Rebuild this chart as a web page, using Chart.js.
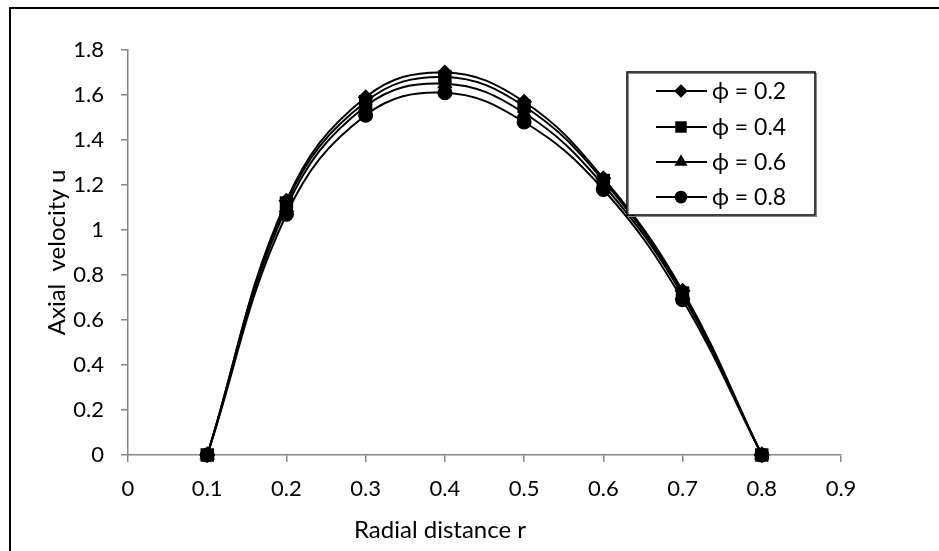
<!DOCTYPE html>
<html><head><meta charset="utf-8">
<script src="https://cdn.jsdelivr.net/npm/chart.js@4.4.1/dist/chart.umd.min.js"></script>
<style>
html,body{margin:0;padding:0;background:#fff;overflow:hidden;}
#wrap{position:relative;width:939px;height:551px;overflow:hidden;}
#frame{position:absolute;left:9px;top:7px;width:1000px;height:700px;border:2px solid #000;box-sizing:border-box;}
canvas{position:absolute;left:0;top:0;}
</style></head><body>
<div id="wrap"><div id="frame"></div><canvas id="c" width="939" height="551"></canvas></div>
<script>
const radialDistance = [0.1, 0.2, 0.3, 0.4, 0.5, 0.6, 0.7, 0.8];
const phi02 = [0, 1.13, 1.59, 1.70, 1.57, 1.23, 0.73, 0];
const phi04 = [0, 1.12, 1.57, 1.68, 1.55, 1.22, 0.72, 0];
const phi06 = [0, 1.10, 1.55, 1.65, 1.52, 1.20, 0.71, 0];
const phi08 = [0, 1.07, 1.51, 1.61, 1.48, 1.18, 0.69, 0];
const seriesLabels = ['\u03D5 = 0.2', '\u03D5 = 0.4', '\u03D5 = 0.6', '\u03D5 = 0.8'];
const xTicks = [0, 0.1, 0.2, 0.3, 0.4, 0.5, 0.6, 0.7, 0.8, 0.9];
const xTickLabels = ['0', '0.1', '0.2', '0.3', '0.4', '0.5', '0.6', '0.7', '0.8', '0.9'];
const yTicks = [0, 0.2, 0.4, 0.6, 0.8, 1, 1.2, 1.4, 1.6, 1.8];
const yTickLabels = ['0', '0.2', '0.4', '0.6', '0.8', '1', '1.2', '1.4', '1.6', '1.8'];
const xTitle = 'Radial distance r';
const yTitle = 'Axial  velocity u';

const FONT = "Lato, 'Noto Sans', 'DejaVu Sans', sans-serif";
const markerStyles = [
  {pointStyle: 'rectRot', radius: 8},
  {pointStyle: 'rect', radius: 9.5},
  {pointStyle: 'triangle', radius: 9},
  {pointStyle: 'circle', radius: 7.5}
];
const seriesValues = [phi02, phi04, phi06, phi08];

const datasets = seriesValues.map((vals, i) => ({
  label: seriesLabels[i],
  data: radialDistance.map((r, j) => ({x: r, y: vals[j]})),
  showLine: true,
  borderColor: '#000',
  backgroundColor: '#000',
  borderWidth: 2,
  tension: 0.4,
  pointStyle: markerStyles[i].pointStyle,
  pointRadius: markerStyles[i].radius,
  pointBorderWidth: 0,
  pointBackgroundColor: '#000',
  clip: false,
  order: seriesValues.length - 1 - i
}));

const overlay = {
  id: 'overlay',
  afterDraw(chart) {
    const ctx = chart.ctx;
    const area = chart.chartArea;
    ctx.save();
    ctx.fillStyle = '#000';
    // axis titles
    ctx.font = '24px ' + FONT;
    ctx.textAlign = 'center';
    ctx.textBaseline = 'middle';
    ctx.fillText(xTitle, 440, 530);
    ctx.save();
    ctx.translate(57, (area.top + area.bottom) / 2);
    ctx.rotate(-Math.PI / 2);
    ctx.fillText(yTitle, 0, 0);
    ctx.restore();
    // legend
    const bx = 627, by = 72, bw = 188, bh = 143;
    ctx.fillStyle = '#fff';
    ctx.fillRect(bx, by, bw, bh);
    ctx.strokeStyle = '#888';
    ctx.lineWidth = 1;
    ctx.strokeRect(bx + 1.5, by + 1.5, bw, bh);
    ctx.strokeStyle = '#000';
    ctx.lineWidth = 1.5;
    ctx.strokeRect(bx, by, bw, bh);
    const rows = [91, 127, 162, 197];
    chart.data.datasets.forEach((ds, i) => {
      const y = rows[i];
      ctx.strokeStyle = '#000';
      ctx.lineWidth = 2;
      ctx.beginPath();
      ctx.moveTo(656, y);
      ctx.lineTo(707, y);
      ctx.stroke();
      ctx.fillStyle = '#000';
      ctx.strokeStyle = '#000';
      ctx.lineWidth = 0.01;
      Chart.helpers.drawPoint(ctx, {pointStyle: ds.pointStyle, radius: ds.pointRadius * 0.85, rotation: 0, borderWidth: 0}, 681, y);
      ctx.font = '23px ' + FONT;
      ctx.textAlign = 'left';
      ctx.textBaseline = 'middle';
      ctx.fillText(ds.label, 712, y + 1);
    });
    ctx.restore();
  }
};

new Chart(document.getElementById('c'), {
  type: 'scatter',
  data: {datasets},
  options: {
    responsive: false,
    animation: false,
    layout: {padding: {left: 0, top: 50, right: 98, bottom: 0}},
    plugins: {legend: {display: false}, tooltip: {enabled: false}},
    scales: {
      x: {
        type: 'linear', min: 0, max: 0.9,
        afterBuildTicks: s => { s.ticks = xTicks.map(v => ({value: v})); },
        afterFit: s => { s.height = 96; },
        grid: {drawOnChartArea: false, drawTicks: true, tickLength: 7, color: '#868686', lineWidth: 1.5},
        border: {color: '#868686', width: 1.5},
        ticks: {color: '#000', padding: 14, font: {family: FONT, size: 22}, maxRotation: 0, autoSkip: false,
          callback: (v, i) => xTickLabels[i]}
      },
      y: {
        type: 'linear', min: 0, max: 1.8,
        afterBuildTicks: s => { s.ticks = yTicks.map(v => ({value: v})); },
        afterFit: s => { s.width = 128; },
        grid: {drawOnChartArea: false, drawTicks: true, tickLength: 7, color: '#868686', lineWidth: 1.5},
        border: {color: '#868686', width: 1.5},
        ticks: {color: '#000', padding: 17, font: {family: FONT, size: 22}, autoSkip: false,
          callback: (v, i) => yTickLabels[i]}
      }
    }
  },
  plugins: [overlay]
});
</script>
</body></html>
